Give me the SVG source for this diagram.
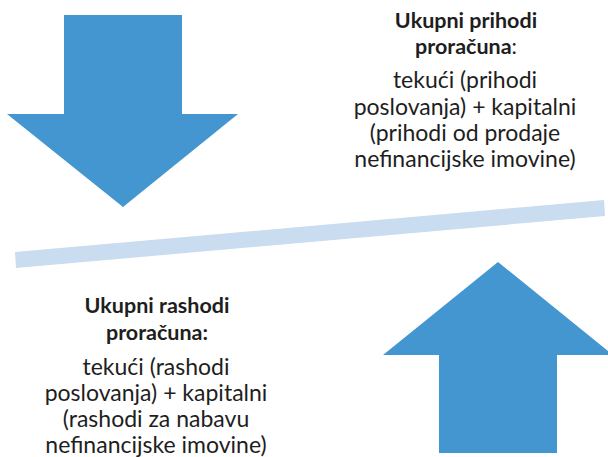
<svg xmlns="http://www.w3.org/2000/svg" width="608" height="457" viewBox="0 0 608 457">
<style>
.arrow{fill:#4496d0}
.bar{fill:#c9dcf0}
text{font-family:Lato,"Open Sans","Liberation Sans",sans-serif;fill:#1e1e1e;text-anchor:middle}
.t{font-weight:bold;font-size:21.5px}
.b{font-size:23px}
</style>
<rect width="608" height="457" fill="#ffffff"/>
<g id="connectors">
<polygon id="balance-bar" class="bar" points="15,252 16,268 605,216 604,200"/>
</g>
<g id="arrow-down">
<polygon class="arrow" points="64,15 182,15 182,114 238,114 123,207 7,114 64,114"/>
</g>
<g id="arrow-up">
<polygon class="arrow" points="498,262 613,355 557,355 557,453 439,453 439,355 383,355"/>
</g>
<g id="prihodi">
<text class="t" x="466" y="28">Ukupni prihodi</text>
<text class="t" x="466" y="54">proračuna<tspan font-weight="normal">:</tspan></text>
<text class="b" x="465" y="88">tekući (prihodi</text>
<text class="b" x="465" y="115">poslovanja) + kapitalni</text>
<text class="b" x="465" y="141">(prihodi od prodaje</text>
<text class="b" x="465" y="167">nefinancijske imovine)</text>
</g>
<g id="rashodi">
<text class="t" x="157" y="313">Ukupni rashodi</text>
<text class="t" x="157" y="340">proračuna:</text>
<text class="b" x="156" y="375">tekući (rashodi</text>
<text class="b" x="156" y="401">poslovanja) + kapitalni</text>
<text class="b" x="156" y="427">(rashodi za nabavu</text>
<text class="b" x="156" y="453">nefinancijske imovine)</text>
</g>
</svg>
